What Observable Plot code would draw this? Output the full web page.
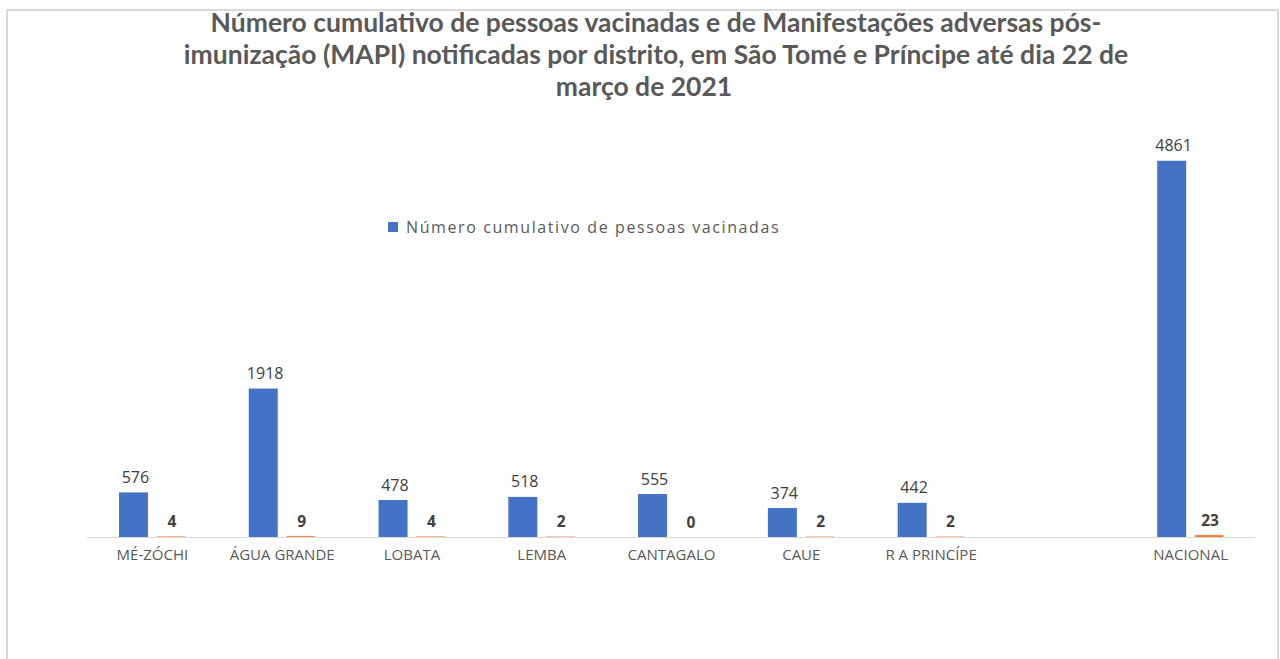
<!DOCTYPE html>
<html><head><meta charset="utf-8">
<script src="https://cdn.jsdelivr.net/npm/d3@7"></script>
<script src="https://cdn.jsdelivr.net/npm/@observablehq/plot@0.6"></script>
<style>
body{margin:0;background:#fff;width:1280px;height:659px;overflow:hidden;position:relative;font-family:"Open Sans",sans-serif;}
#frame{position:absolute;left:6px;top:9px;width:1269px;height:700px;border:2px solid #d9d9d9;border-bottom:none;}
#title{position:absolute;top:6px;left:0;width:1312px;text-align:center;font-family:Lato,sans-serif;font-weight:bold;font-size:26.5px;color:#595959;line-height:32px;}
#title .l3{position:relative;left:-12px;}
#chart{position:absolute;top:110px;left:0;}
#legend{position:absolute;left:388px;top:210px;}
#legend div, #legend span{font-family:"Open Sans",sans-serif;font-size:16px;color:#595959;letter-spacing:1.6px;}
</style></head><body>
<div id="frame"></div>
<div id="title">Número cumulativo de pessoas vacinadas e de Manifestações adversas pós-<br>imunização (MAPI) notificadas por distrito, em São Tomé e Príncipe até dia 22 de<br><span class="l3">março de 2021</span></div>
<div id="chart"></div>
<div id="legend"></div>
<script>
const districts = ["MÉ-ZÓCHI","ÁGUA GRANDE","LOBATA","LEMBA","CANTAGALO","CAUE","R A PRINCÍPE"," ","NACIONAL"];
const vaccinated = [576,1918,478,518,555,374,442,null,4861];
const mapi = [4,9,4,2,0,2,2,null,23];
const seriesNames = ["Número cumulativo de pessoas vacinadas","MAPI notificadas"];
const seriesColors = ["#4472c4","#ed7d31"];

const rows = districts.map((d,i)=>({district:d, vac:vaccinated[i], mapi:mapi[i]})).filter(r=>r.vac!=null);

const chart = Plot.plot({
  width:1280, height:549,
  marginLeft:87, marginRight:25, marginTop:40, marginBottom:122,
  style:{fontFamily:"Open Sans, sans-serif", background:"transparent", overflow:"visible"},
  x:{domain:districts, padding:0, round:false, label:null},
  y:{domain:[0,5000], axis:null},
  marks:[
    Plot.barY(rows,{x:"district", y:"vac", fill:seriesColors[0], insetLeft:32, insetRight:68.8}),
    Plot.barY(rows,{x:"district", y:"mapi", fill:seriesColors[1], insetLeft:70, insetRight:31.8,
      stroke:seriesColors[1], strokeOpacity:d=>d.mapi>0?0.45:0, strokeWidth:1}),
    Plot.ruleY([0],{stroke:"#d9d9d9", strokeWidth:1}),
    Plot.text(rows,{x:"district", y:"vac", text:d=>String(d.vac), dx:-17, dy:-10, lineAnchor:"bottom", fill:"#404040", fontSize:16, letterSpacing:2}),
    Plot.text(rows,{x:"district", y:"mapi", text:d=>String(d.mapi), dx:19.5, dy:-10, lineAnchor:"bottom", fill:"#404040", fontSize:15.5, fontWeight:"bold", letterSpacing:1}),
    Plot.axisX({tickSize:0, tickPadding:12, fontSize:15, fill:"#595959", letterSpacing:1.6, label:null})
  ]
});
document.getElementById("chart").append(chart);

const legend = Plot.legend({
  color:{type:"ordinal", domain:[seriesNames[0]], range:[seriesColors[0]]},
  legend:"swatches", swatchSize:10,
  style:{fontSize:"16px", color:"#595959", fontFamily:"Open Sans, sans-serif"}
});
document.getElementById("legend").append(legend);
</script>
</body></html>
